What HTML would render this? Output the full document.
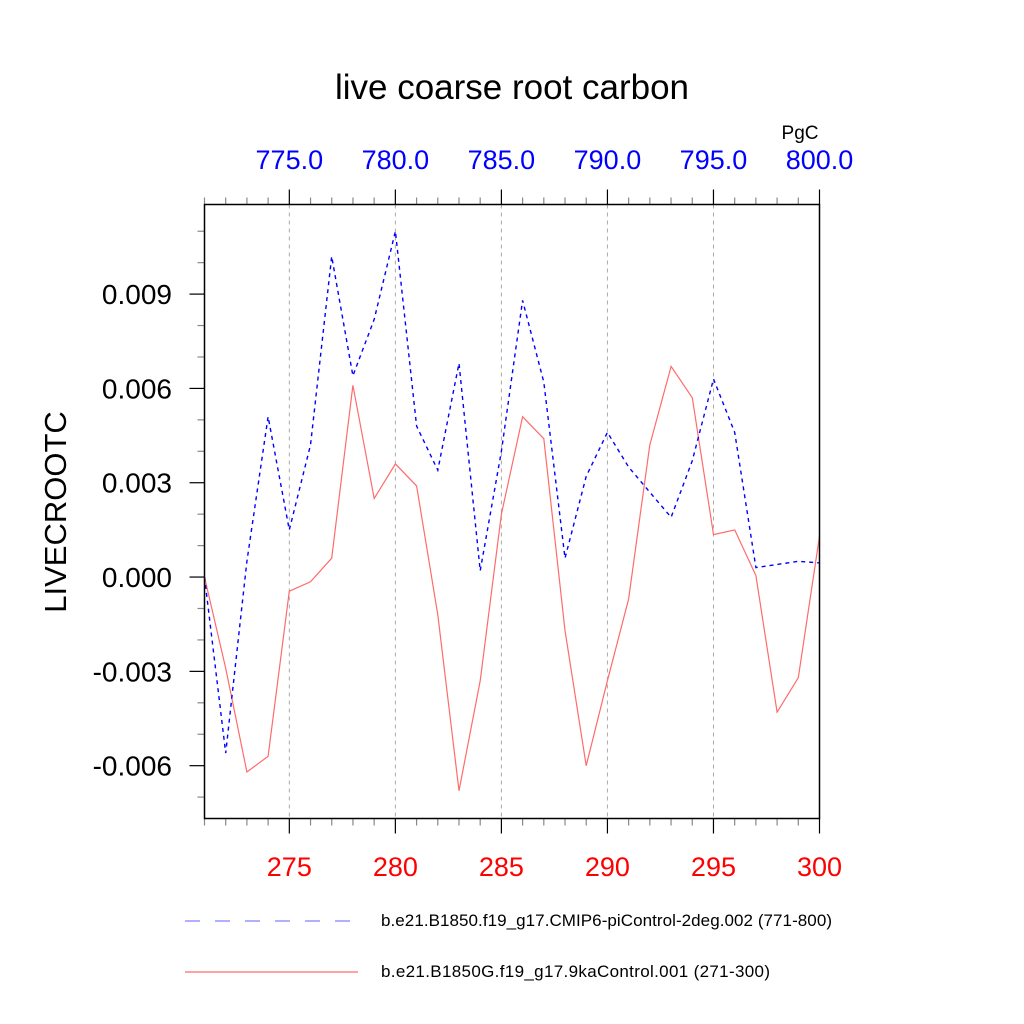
<!DOCTYPE html>
<html><head><meta charset="utf-8"><style>
html,body{margin:0;padding:0;background:#fff;}
svg{display:block;font-family:"Liberation Sans",sans-serif;}
</style></head><body>
<svg id="chart" width="1024" height="1024" viewBox="0 0 1024 1024" xmlns="http://www.w3.org/2000/svg">
<rect width="1024" height="1024" fill="#fff"/>
<text x="512" y="99" font-size="35" text-anchor="middle">live coarse root carbon</text>
<text x="800" y="139" font-size="19" text-anchor="middle">PgC</text>
<text transform="translate(66,512) rotate(-90)" font-size="31" text-anchor="middle">LIVECROOTC</text>
<g id="grid"></g>
<g id="axes"></g>
<g id="series"></g>
<rect x="204.5" y="204.5" width="615" height="614" fill="none" stroke="#000" stroke-width="1.5"/>
<g>
<line x1="185" y1="921" x2="355" y2="921" stroke="#8080ff" stroke-width="1.2" stroke-dasharray="15,15"/>
<text x="381" y="926" font-size="17" textLength="451">b.e21.B1850.f19_g17.CMIP6-piControl-2deg.002 (771-800)</text>
<line x1="185" y1="972" x2="358" y2="972" stroke="#ff6b6b" stroke-width="1.2"/>
<text x="381" y="977" font-size="17" textLength="389">b.e21.B1850G.f19_g17.9kaControl.001 (271-300)</text>
</g>
</svg>
<script>
const years = [271,272,273,274,275,276,277,278,279,280,281,282,283,284,285,286,287,288,289,290,291,292,293,294,295,296,297,298,299,300];
const blueValues = [0.0,-0.0056,0.0005,0.0051,0.0015,0.0042,0.0102,0.0064,0.0082,0.011,0.0048,0.0034,0.0068,0.0002,0.0040,0.0088,0.0062,0.0006,0.0032,0.0046,0.0035,0.0027,0.0019,0.0037,0.0063,0.0046,0.0003,0.0004,0.0005,0.00045];
const redValues = [0.0,-0.0029,-0.0062,-0.0057,-0.00045,-0.00015,0.0006,0.0061,0.0025,0.0036,0.0029,-0.0012,-0.0068,-0.0033,0.0020,0.0051,0.0044,-0.0017,-0.0060,-0.0033,-0.0007,0.0042,0.0067,0.0057,0.00135,0.0015,0.00005,-0.0043,-0.0032,0.0013];
const bottomTicks = [275,280,285,290,295,300];
const topTickLabels = ["775.0","780.0","785.0","790.0","795.0","800.0"];
const yTicks = [-0.006,-0.003,0.0,0.003,0.006,0.009];
const yTickLabels = ["-0.006","-0.003","0.000","0.003","0.006","0.009"];

const X0=204.5, X1=819.5, Y0=818.5, Y1=204.5;
const xMin=271, xMax=300, yMin=-0.00768, yMax=0.01185;
function xs(v){return X0+(v-xMin)/(xMax-xMin)*(X1-X0);}
function ys(v){return Y0-(v-yMin)/(yMax-yMin)*(Y0-Y1);}
const NS="http://www.w3.org/2000/svg";
function mk(tag,attrs,parent){const e=document.createElementNS(NS,tag);for(const k in attrs)e.setAttribute(k,attrs[k]);parent.appendChild(e);return e;}
const grid=document.getElementById('grid'), axes=document.getElementById('axes'), series=document.getElementById('series');

bottomTicks.forEach((t,i)=>{
  if(t<xMax){
    const g=mk('line',{x1:xs(t),x2:xs(t),y1:Y1,y2:Y0,stroke:'#aaa','stroke-width':1,'stroke-dasharray':'4,4'},grid);
    
    
  }
  const b=mk('text',{x:xs(t),y:876,'font-size':27,'text-anchor':'middle',fill:'#ff0000'},axes);
  b.textContent=String(t);
  
  
  const tp=mk('text',{x:xs(t),y:169,'font-size':27,'text-anchor':'middle',fill:'#0000ff'},axes);
  tp.textContent=topTickLabels[i];
  
  
});
for(let y=xMin;y<=xMax;y++){
  const major=bottomTicks.includes(y);
  const L=major?15:7;
  const c=major?'#000':'#888';
  const tb=mk('line',{x1:xs(y),x2:xs(y),y1:Y0,y2:Y0+L,stroke:c,'stroke-width':1.2},axes);
  
  
  const tt=mk('line',{x1:xs(y),x2:xs(y),y1:Y1,y2:Y1-L,stroke:c,'stroke-width':1.2},axes);
  
  
}
for(let k=-7;k<=11;k++){
  const v=k*0.001;
  const major=(k%3===0);
  const L=major?15:7;
  const t=mk('line',{x1:X0,x2:X0-L,y1:ys(v),y2:ys(v),stroke:major?'#000':'#888','stroke-width':1.2},axes);
  
  
}
yTicks.forEach((v,i)=>{
  const t=mk('text',{x:172,y:ys(v)+10,'font-size':28,'text-anchor':'end'},axes);
  t.textContent=yTickLabels[i];
  
  
});
function pts(vals){return vals.map((v,i)=>xs(years[i]).toFixed(1)+','+ys(v).toFixed(1)).join(' ');}
const red=mk('polyline',{points:pts(redValues),fill:'none',stroke:'#ff6b6b','stroke-width':1.2},series);


const blue=mk('polyline',{points:pts(blueValues),fill:'none',stroke:'#0000ff','stroke-width':1.4,'stroke-dasharray':'4,4'},series);


</script>
</body></html>
